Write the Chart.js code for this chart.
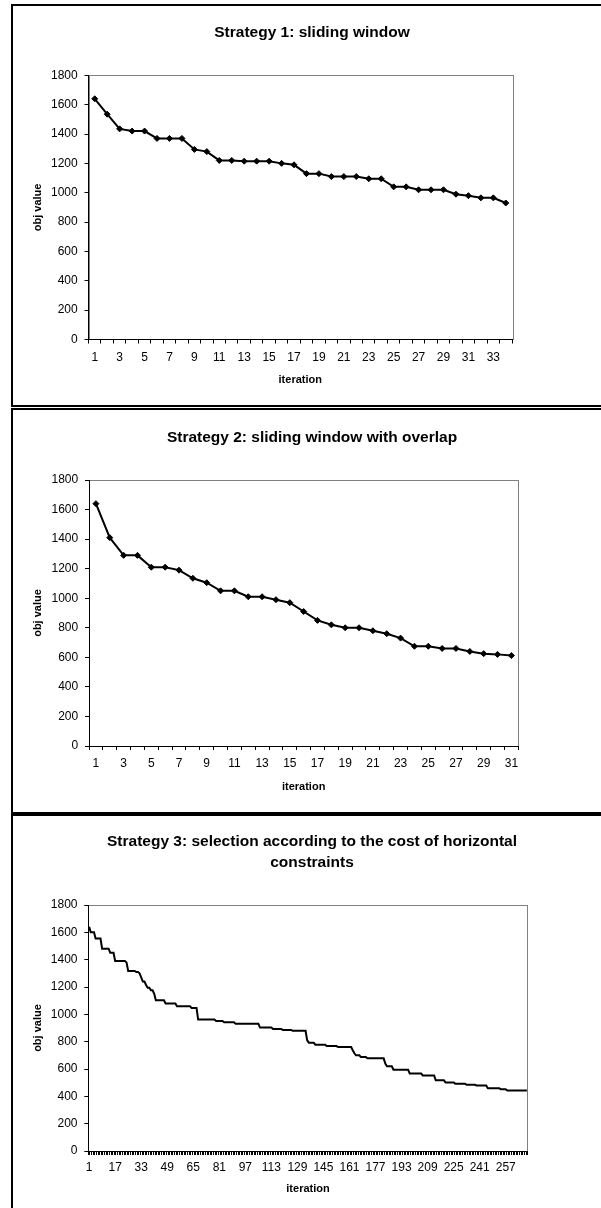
<!DOCTYPE html>
<html>
<head>
<meta charset="utf-8">
<script src="https://cdn.jsdelivr.net/npm/chart.js@4.4.1/dist/chart.umd.min.js"></script>
<style>
  html, body { margin: 0; padding: 0; background: #fff; }
  body { position: relative; width: 601px; height: 1208px; overflow: hidden; }
  .box { position: absolute; left: 11px; width: 602px; border: 2px solid #000; box-sizing: border-box; background: #fff; }
  .box canvas { position: absolute; left: 0; top: 0; }
</style>
</head>
<body>
<div class="box" style="top:4px;height:403px"><canvas id="chart1" width="598" height="399"></canvas></div>
<div class="box" style="top:408px;height:406px"><canvas id="chart2" width="598" height="402"></canvas></div>
<div class="box" style="top:814px;height:420px"><canvas id="chart3" width="598" height="392"></canvas></div>
<script>
const yTickValues = [0, 200, 400, 600, 800, 1000, 1200, 1400, 1600, 1800];

const strategy1Values = [
  1640, 1535, 1435, 1420, 1420, 1370, 1370, 1370, 1295, 1280,
  1220, 1220, 1215, 1215, 1215, 1200, 1190, 1130, 1130, 1110,
  1110, 1110, 1095, 1095, 1040, 1040, 1020, 1020, 1020, 990,
  980, 965, 965, 930
];

const strategy2Values = [
  1640, 1410, 1290, 1290, 1210, 1210, 1190, 1135, 1105, 1050,
  1050, 1010, 1010, 990, 970, 910, 850, 820, 800, 800,
  780, 760, 730, 675, 675, 660, 660, 640, 625, 620,
  612
];

const strategy3Values = [
  1640, 1600, 1600, 1600, 1555, 1555, 1555, 1555, 1480, 1480,
  1480, 1480, 1480, 1450, 1450, 1450, 1390, 1390, 1390, 1390,
  1390, 1390, 1390, 1380, 1318, 1318, 1318, 1318, 1318, 1310,
  1310, 1300, 1270, 1240, 1240, 1215, 1195, 1195, 1176, 1176,
  1150, 1103, 1103, 1103, 1103, 1103, 1103, 1080, 1080, 1080,
  1080, 1080, 1080, 1080, 1060, 1060, 1060, 1060, 1060, 1060,
  1060, 1060, 1060, 1047, 1047, 1047, 1047, 962, 962, 962,
  962, 962, 962, 962, 962, 962, 962, 962, 951, 951,
  951, 951, 951, 942, 942, 942, 942, 942, 942, 942,
  932, 932, 932, 932, 932, 932, 932, 932, 932, 932,
  932, 932, 932, 932, 932, 903, 903, 903, 903, 903,
  903, 903, 903, 893, 893, 893, 893, 893, 893, 886,
  886, 886, 886, 886, 886, 880, 880, 880, 880, 880,
  880, 880, 880, 880, 810, 793, 793, 793, 793, 778,
  778, 778, 778, 778, 778, 778, 768, 768, 768, 768,
  768, 768, 768, 761, 761, 761, 761, 761, 761, 761,
  761, 761, 737, 715, 700, 700, 700, 688, 688, 688,
  688, 678, 678, 678, 678, 678, 678, 678, 678, 678,
  678, 678, 640, 620, 620, 620, 620, 595, 595, 595,
  595, 595, 595, 595, 595, 595, 595, 568, 568, 568,
  568, 568, 568, 568, 568, 553, 553, 553, 553, 553,
  553, 553, 553, 518, 518, 518, 518, 518, 518, 502,
  502, 502, 502, 502, 502, 493, 493, 493, 493, 493,
  493, 493, 485, 485, 485, 485, 485, 485, 480, 480,
  480, 480, 480, 480, 480, 460, 460, 460, 460, 460,
  460, 460, 460, 451, 451, 451, 451, 443, 443, 443,
  443, 443, 443, 443, 443, 443, 443, 443, 443, 443
];

const FONT = '"Liberation Sans", Arial, sans-serif';

// excel-like plot area: grey frame, black axes drawn on top by the scales
const plotFrame = {
  id: 'plotFrame',
  beforeDraw(chart) {
    const { ctx, chartArea: a } = chart;
    ctx.save();
    ctx.strokeStyle = '#808080';
    ctx.lineWidth = 1;
    ctx.strokeRect(Math.round(a.left) + 0.5, Math.round(a.top) + 0.5,
      Math.round(a.right - a.left), Math.round(a.bottom - a.top));
    ctx.restore();
  }
};

function fixedSize(prop, size) {
  return scale => { scale[prop] = size; };
}

function buildChart(id, o) {
  const labels = o.values.map((v, i) => String(i + 1));
  return new Chart(document.getElementById(id), {
    type: 'line',
    data: {
      labels: labels,
      datasets: [{
        data: o.values,
        borderColor: '#000',
        borderWidth: 2,
        tension: 0,
        pointStyle: 'rectRot',
        pointRadius: o.markers ? 3 : 0,
        pointBackgroundColor: '#000',
        pointBorderColor: '#000',
        pointBorderWidth: 1
      }]
    },
    options: {
      responsive: false,
      animation: false,
      events: [],
      layout: { padding: 0 },
      plugins: {
        legend: { display: false },
        tooltip: { enabled: false },
        title: {
          display: true,
          text: o.title,
          color: '#000',
          font: { family: FONT, size: 15.5, weight: 'bold', lineHeight: o.titleLineHeight },
          padding: o.titlePadding
        }
      },
      scales: {
        x: {
          type: 'category',
          offset: true,
          afterFit: fixedSize('height', o.xHeight),
          grid: { offset: true, drawOnChartArea: false, drawTicks: true, tickLength: 4, color: '#000' },
          border: { display: true, color: '#000', width: 1 },
          ticks: {
            autoSkip: false,
            maxRotation: 0,
            minRotation: 0,
            padding: o.xTickPad,
            color: '#000',
            font: { family: FONT, size: 12 },
            callback(value, index) {
              return index % o.labelEvery === 0 ? this.getLabelForValue(value) : '';
            }
          },
          title: {
            display: true,
            text: 'iteration',
            color: '#000',
            font: { family: FONT, size: 11, weight: 'bold' },
            padding: { top: 0, bottom: o.xTitlePad }
          }
        },
        y: {
          min: 0,
          max: 1800,
          afterFit: fixedSize('width', o.yWidth),
          afterBuildTicks: axis => { axis.ticks = yTickValues.map(v => ({ value: v })); },
          grid: { drawOnChartArea: false, drawTicks: true, tickLength: 4, color: '#000' },
          border: { display: true, color: '#000', width: 1 },
          ticks: {
            padding: 6.8,
            color: '#000',
            font: { family: FONT, size: 12 },
            callback: value => String(value)
          },
          title: {
            display: true,
            text: 'obj value',
            color: '#000',
            font: { family: FONT, size: 11, weight: 'bold' },
            padding: { top: 18.7, bottom: 0 }
          }
        },
        // empty right-hand box that keeps the plot narrower than the chart
        rightGap: {
          position: 'right',
          display: true,
          afterFit: fixedSize('width', o.rightGap),
          grid: { display: false },
          border: { display: false },
          ticks: { display: false }
        }
      }
    },
    plugins: [plotFrame]
  });
}

buildChart('chart1', {
  values: strategy1Values,
  title: 'Strategy 1: sliding window',
  titleLineHeight: 1.2,
  titlePadding: { top: 17.7, bottom: 33 },
  markers: true,
  labelEvery: 2,
  yWidth: 75.5,
  rightGap: 99,
  xHeight: 65.5,
  xTickPad: 7.3,
  xTitlePad: 18.4
});

buildChart('chart2', {
  values: strategy2Values,
  title: 'Strategy 2: sliding window with overlap',
  titleLineHeight: 1.2,
  titlePadding: { top: 18.4, bottom: 33 },
  markers: true,
  labelEvery: 2,
  yWidth: 76,
  rightGap: 92.7,
  xHeight: 66,
  xTickPad: 6.8,
  xTitlePad: 18.7
});

buildChart('chart3', {
  values: strategy3Values,
  title: ['Strategy 3: selection according to the cost of horizontal', 'constraints'],
  titleLineHeight: 1.33,
  titlePadding: { top: 15.4, bottom: 32.4 },
  markers: false,
  labelEvery: 16,
  yWidth: 75.3,
  rightGap: 83.3,
  xHeight: 57,
  xTickPad: 5.8,
  xTitlePad: 12.4
});
</script>
</body>
</html>
